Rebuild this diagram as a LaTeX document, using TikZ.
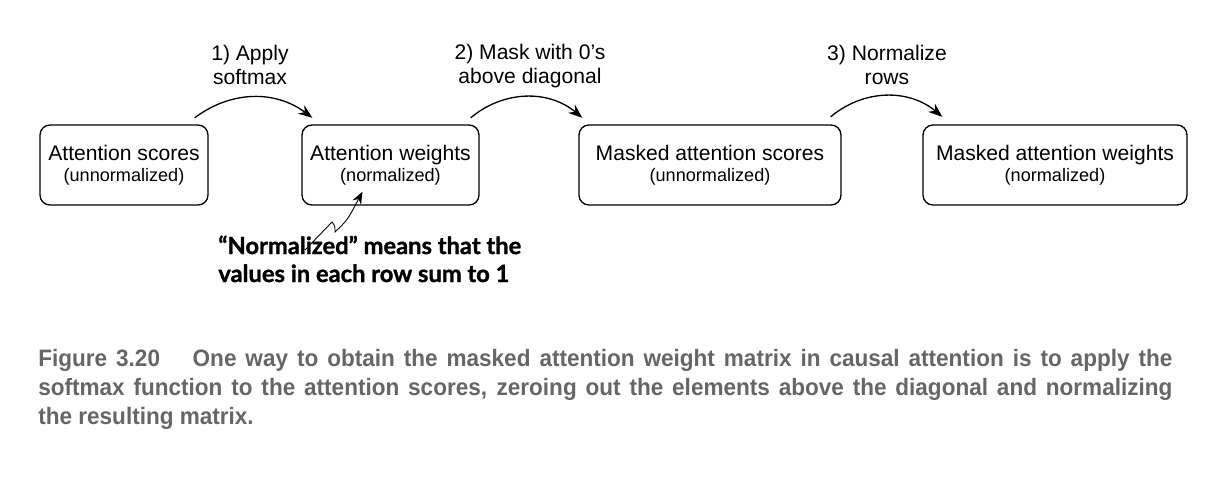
\documentclass[tikz,border=0pt]{standalone}
\usepackage{fontspec}
\setmainfont{Liberation Sans}
\newfontfamily\notefont[BoldFeatures={FakeBold=1.2}]{Lato}
\newfontfamily\capfont[FakeStretch=0.95]{Liberation Sans}
\usetikzlibrary{arrows.meta}
\usetikzlibrary{calc}
\definecolor{capgray}{HTML}{666666}

\tikzset{
 matbox/.style={draw, line width=0.75pt, rounded corners=0.2cm, align=center, minimum height=1.6cm, inner sep=0pt},
 steparrow/.style={line width=0.75pt, -{Stealth[length=8pt,width=6pt]}},
 steplabel/.style={align=center, font=\fontsize{12}{13.7}\selectfont},
 capline/.style={anchor=base west, inner sep=0pt, text=capgray, font=\capfont\bfseries\fontsize{13.5}{16}\selectfont},
}
\newcommand{\boxtext}[2]{\fontsize{12}{14.7}\selectfont #1\\\fontsize{10.3}{14.7}\selectfont #2}

\begin{document}
\begin{tikzpicture}
\useasboundingbox (0,0) rectangle (24.16,-9.64);

% the four matrices
\node[matbox, minimum width=3.36cm] (as) at (2.48,-3.30) {\boxtext{Attention scores}{(unnormalized)}};
\node[matbox, minimum width=3.54cm] (aw) at (7.81,-3.30) {\boxtext{Attention weights}{(normalized)}};
\node[matbox, minimum width=5.24cm] (ms) at (14.20,-3.30) {\boxtext{Masked attention scores}{(unnormalized)}};
\node[matbox, minimum width=5.28cm] (mw) at (21.10,-3.30) {\boxtext{Masked attention weights}{(normalized)}};

% steps
\draw[steparrow] ([xshift=-0.28cm,yshift=0.13cm]as.north east) to[bend left=37] ([xshift=0.22cm,yshift=0.13cm]aw.north west);
\draw[steparrow] ([xshift=-0.18cm,yshift=0.13cm]aw.north east) to[bend left=40] ([xshift=0.08cm,yshift=0.13cm]ms.north west);
\draw[steparrow] ([xshift=-0.22cm,yshift=0.15cm]ms.north east) to[bend left=40] ([xshift=0.40cm,yshift=0.15cm]mw.north west);

\node[steplabel] (l1) at (5.0,-1.29) {1) Apply\\softmax};
\node[steplabel] (l2) at (10.6,-1.33) {2) Mask with 0’s\\above diagonal};
\node[steplabel] (l3) at (17.74,-1.29) {3) Normalize\\rows};

% note on normalized
\node[anchor=base west, align=left, inner sep=0pt, font=\notefont\bfseries\fontsize{13.5}{15.9}\selectfont] (note) at (4.36,-5.64) {“Normalized” means that the\\values in each row sum to 1};
\coordinate (nstart) at (6.1,-5.0);
\draw[line width=0.5pt, -{Stealth[length=7pt,width=5.5pt]}] (nstart) -- (6.64,-4.44) .. controls (6.7,-4.52) .. (6.7,-4.64) .. controls (6.95,-4.4) .. ([xshift=-0.56cm,yshift=0.28cm]aw.south);

% caption
\node[capline] (cap1) at (0.76,-7.32) {\makebox[22.68cm][s]{Figure 3.20\quad\ One way to obtain the masked attention weight matrix in causal attention is to apply the}};
\node[capline] (cap2) at (0.76,-7.90) {\makebox[22.68cm][s]{softmax function to the attention scores, zeroing out the elements above the diagonal and normalizing}};
\node[capline] (cap3) at (0.76,-8.48) {the resulting matrix.};
\end{tikzpicture}
\end{document}
